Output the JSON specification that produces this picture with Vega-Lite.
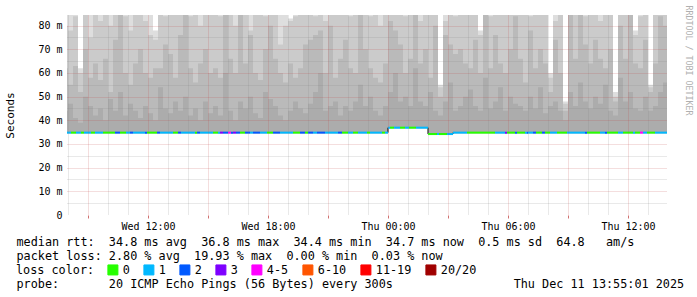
{
"$schema": "https://vega.github.io/schema/vega-lite/v6.json",
"width": 600, "height": 200,
"autosize": {"type": "none"},
"padding": {"left": 67, "top": 15, "right": 30, "bottom": 82},
"background": "white",
"config": {"view": {"stroke": null}, "font": "DejaVu Sans Mono"},
"datasets": {
"smoke": [
{"t":"2025-12-10T07:45","med":34.8,"a":90,"b":80,"c":62,"d":44},
{"t":"2025-12-10T08:00","med":34.8,"a":90,"b":78,"c":55,"d":47},
{"t":"2025-12-10T08:15","med":34.8,"a":90,"b":84,"c":63,"d":41},
{"t":"2025-12-10T08:30","med":34.8,"a":62,"b":60,"c":52,"d":39},
{"t":"2025-12-10T08:45","med":34.8,"a":90,"b":86,"c":70,"d":50},
{"t":"2025-12-10T09:00","med":34.8,"a":90,"b":75,"c":58,"d":46},
{"t":"2025-12-10T09:15","med":34.8,"a":90,"b":90,"c":64,"d":42},
{"t":"2025-12-10T09:30","med":34.8,"a":90,"b":82,"c":57,"d":45},
{"t":"2025-12-10T09:45","med":34.8,"a":90,"b":88,"c":66,"d":40},
{"t":"2025-12-10T10:00","med":34.8,"a":90,"b":80,"c":52,"d":49},
{"t":"2025-12-10T10:15","med":34.8,"a":90,"b":90,"c":74,"d":44},
{"t":"2025-12-10T10:30","med":34.8,"a":90,"b":90,"c":90,"d":52},
{"t":"2025-12-10T10:45","med":34.8,"a":90,"b":84,"c":60,"d":42},
{"t":"2025-12-10T11:00","med":34.8,"a":90,"b":78,"c":55,"d":47},
{"t":"2025-12-10T11:15","med":34.8,"a":90,"b":86,"c":64,"d":44},
{"t":"2025-12-10T11:30","med":34.8,"a":90,"b":90,"c":70,"d":41},
{"t":"2025-12-10T11:45","med":34.8,"a":90,"b":82,"c":60,"d":46},
{"t":"2025-12-10T12:00","med":34.8,"a":90,"b":76,"c":58,"d":43},
{"t":"2025-12-10T12:15","med":34.8,"a":78,"b":74,"c":62,"d":40},
{"t":"2025-12-10T12:30","med":34.8,"a":90,"b":88,"c":62,"d":54},
{"t":"2025-12-10T12:45","med":34.8,"a":90,"b":84,"c":72,"d":45},
{"t":"2025-12-10T13:00","med":34.8,"a":90,"b":90,"c":68,"d":43},
{"t":"2025-12-10T13:15","med":34.8,"a":90,"b":86,"c":58,"d":48},
{"t":"2025-12-10T13:30","med":34.8,"a":90,"b":90,"c":76,"d":44},
{"t":"2025-12-10T13:45","med":34.8,"a":90,"b":90,"c":90,"d":50},
{"t":"2025-12-10T14:00","med":34.8,"a":90,"b":84,"c":62,"d":42},
{"t":"2025-12-10T14:15","med":34.8,"a":90,"b":88,"c":56,"d":45},
{"t":"2025-12-10T14:30","med":34.8,"a":90,"b":80,"c":64,"d":40},
{"t":"2025-12-10T14:45","med":34.8,"a":90,"b":86,"c":70,"d":48},
{"t":"2025-12-10T15:00","med":34.8,"a":90,"b":90,"c":60,"d":43},
{"t":"2025-12-10T15:15","med":34.8,"a":90,"b":88,"c":62,"d":46},
{"t":"2025-12-10T15:30","med":34.8,"a":90,"b":84,"c":58,"d":42},
{"t":"2025-12-10T15:45","med":34.8,"a":90,"b":90,"c":90,"d":60},
{"t":"2025-12-10T16:00","med":34.8,"a":90,"b":86,"c":66,"d":44},
{"t":"2025-12-10T16:15","med":34.8,"a":90,"b":80,"c":60,"d":40},
{"t":"2025-12-10T16:30","med":34.8,"a":90,"b":90,"c":88,"d":48},
{"t":"2025-12-10T16:45","med":34.8,"a":90,"b":88,"c":64,"d":45},
{"t":"2025-12-10T17:00","med":34.8,"a":90,"b":78,"c":76,"d":50},
{"t":"2025-12-10T17:15","med":34.8,"a":90,"b":86,"c":60,"d":43},
{"t":"2025-12-10T17:30","med":34.8,"a":90,"b":90,"c":57,"d":41},
{"t":"2025-12-10T17:45","med":34.8,"a":90,"b":84,"c":70,"d":52},
{"t":"2025-12-10T18:00","med":34.8,"a":90,"b":90,"c":80,"d":49},
{"t":"2025-12-10T18:15","med":34.8,"a":90,"b":88,"c":66,"d":46},
{"t":"2025-12-10T18:30","med":34.8,"a":90,"b":72,"c":60,"d":42},
{"t":"2025-12-10T18:45","med":34.8,"a":90,"b":80,"c":56,"d":40},
{"t":"2025-12-10T19:00","med":34.8,"a":83,"b":82,"c":64,"d":44},
{"t":"2025-12-10T19:15","med":34.8,"a":90,"b":84,"c":58,"d":48},
{"t":"2025-12-10T19:30","med":34.8,"a":90,"b":90,"c":62,"d":45},
{"t":"2025-12-10T19:45","med":34.8,"a":90,"b":86,"c":72,"d":43},
{"t":"2025-12-10T20:00","med":34.8,"a":90,"b":90,"c":74,"d":47},
{"t":"2025-12-10T20:15","med":34.8,"a":90,"b":84,"c":76,"d":52},
{"t":"2025-12-10T20:30","med":34.8,"a":90,"b":90,"c":78,"d":60},
{"t":"2025-12-10T20:45","med":34.8,"a":90,"b":82,"c":60,"d":44},
{"t":"2025-12-10T21:00","med":34.8,"a":90,"b":88,"c":80,"d":46},
{"t":"2025-12-10T21:15","med":34.8,"a":90,"b":86,"c":58,"d":48},
{"t":"2025-12-10T21:30","med":34.8,"a":90,"b":90,"c":66,"d":42},
{"t":"2025-12-10T21:45","med":34.8,"a":90,"b":90,"c":74,"d":46},
{"t":"2025-12-10T22:00","med":34.8,"a":90,"b":84,"c":62,"d":44},
{"t":"2025-12-10T22:15","med":34.8,"a":90,"b":88,"c":60,"d":48},
{"t":"2025-12-10T22:30","med":34.8,"a":90,"b":90,"c":90,"d":55},
{"t":"2025-12-10T22:45","med":34.8,"a":90,"b":88,"c":70,"d":46},
{"t":"2025-12-10T23:00","med":34.8,"a":90,"b":84,"c":62,"d":50},
{"t":"2025-12-10T23:15","med":34.8,"a":90,"b":90,"c":58,"d":44},
{"t":"2025-12-10T23:30","med":34.8,"a":90,"b":80,"c":56,"d":42},
{"t":"2025-12-10T23:45","med":34.8,"a":90,"b":86,"c":64,"d":46},
{"t":"2025-12-11T00:00","med":36.9,"a":90,"b":90,"c":82,"d":52},
{"t":"2025-12-11T00:15","med":36.9,"a":90,"b":88,"c":78,"d":60},
{"t":"2025-12-11T00:30","med":36.9,"a":90,"b":90,"c":72,"d":48},
{"t":"2025-12-11T00:45","med":36.9,"a":90,"b":84,"c":60,"d":50},
{"t":"2025-12-11T01:00","med":36.9,"a":90,"b":86,"c":66,"d":46},
{"t":"2025-12-11T01:15","med":36.9,"a":90,"b":90,"c":88,"d":62},
{"t":"2025-12-11T01:30","med":36.9,"a":90,"b":82,"c":64,"d":48},
{"t":"2025-12-11T01:45","med":36.9,"a":90,"b":88,"c":70,"d":46},
{"t":"2025-12-11T02:00","med":34.2,"a":90,"b":86,"c":58,"d":52},
{"t":"2025-12-11T02:15","med":34.2,"a":90,"b":90,"c":80,"d":44},
{"t":"2025-12-11T02:30","med":34.2,"a":55,"b":54,"c":50,"d":42},
{"t":"2025-12-11T02:45","med":34.2,"a":90,"b":82,"c":76,"d":48},
{"t":"2025-12-11T03:00","med":34.2,"a":90,"b":90,"c":72,"d":56},
{"t":"2025-12-11T03:15","med":34.8,"a":90,"b":84,"c":68,"d":44},
{"t":"2025-12-11T03:30","med":34.8,"a":90,"b":90,"c":70,"d":46},
{"t":"2025-12-11T03:45","med":34.8,"a":90,"b":86,"c":64,"d":50},
{"t":"2025-12-11T04:00","med":34.8,"a":90,"b":88,"c":62,"d":53},
{"t":"2025-12-11T04:15","med":34.8,"a":90,"b":90,"c":74,"d":46},
{"t":"2025-12-11T04:30","med":34.8,"a":78,"b":76,"c":60,"d":44},
{"t":"2025-12-11T04:45","med":34.8,"a":90,"b":90,"c":90,"d":58},
{"t":"2025-12-11T05:00","med":34.8,"a":90,"b":84,"c":62,"d":45},
{"t":"2025-12-11T05:15","med":34.8,"a":90,"b":88,"c":76,"d":48},
{"t":"2025-12-11T05:30","med":34.8,"a":90,"b":86,"c":64,"d":54},
{"t":"2025-12-11T05:45","med":34.8,"a":90,"b":90,"c":60,"d":44},
{"t":"2025-12-11T06:00","med":34.8,"a":90,"b":88,"c":70,"d":50},
{"t":"2025-12-11T06:15","med":34.8,"a":90,"b":90,"c":84,"d":47},
{"t":"2025-12-11T06:30","med":34.8,"a":90,"b":86,"c":66,"d":46},
{"t":"2025-12-11T06:45","med":34.8,"a":90,"b":90,"c":56,"d":44},
{"t":"2025-12-11T07:00","med":34.8,"a":90,"b":84,"c":78,"d":50},
{"t":"2025-12-11T07:15","med":34.8,"a":90,"b":88,"c":62,"d":45},
{"t":"2025-12-11T07:30","med":34.8,"a":90,"b":90,"c":70,"d":54},
{"t":"2025-12-11T07:45","med":34.8,"a":90,"b":86,"c":64,"d":43},
{"t":"2025-12-11T08:00","med":34.8,"a":60,"b":58,"c":52,"d":46},
{"t":"2025-12-11T08:15","med":34.8,"a":90,"b":82,"c":74,"d":48},
{"t":"2025-12-11T08:30","med":34.8,"a":90,"b":88,"c":60,"d":44},
{"t":"2025-12-11T08:45","med":34.8,"a":48,"b":47,"c":44,"d":40},
{"t":"2025-12-11T09:00","med":34.8,"a":90,"b":90,"c":90,"d":52},
{"t":"2025-12-11T09:15","med":34.8,"a":90,"b":86,"c":66,"d":46},
{"t":"2025-12-11T09:30","med":34.8,"a":90,"b":90,"c":88,"d":56},
{"t":"2025-12-11T09:45","med":34.8,"a":90,"b":84,"c":72,"d":48},
{"t":"2025-12-11T10:00","med":34.8,"a":90,"b":88,"c":64,"d":45},
{"t":"2025-12-11T10:15","med":34.8,"a":90,"b":90,"c":74,"d":50},
{"t":"2025-12-11T10:30","med":34.8,"a":90,"b":82,"c":66,"d":47},
{"t":"2025-12-11T10:45","med":34.8,"a":90,"b":86,"c":62,"d":55},
{"t":"2025-12-11T11:00","med":34.8,"a":90,"b":88,"c":70,"d":44},
{"t":"2025-12-11T11:15","med":34.8,"a":52,"b":50,"c":48,"d":42},
{"t":"2025-12-11T11:30","med":34.8,"a":90,"b":86,"c":80,"d":58},
{"t":"2025-12-11T11:45","med":34.8,"a":90,"b":90,"c":66,"d":48},
{"t":"2025-12-11T12:00","med":34.8,"a":90,"b":90,"c":88,"d":52},
{"t":"2025-12-11T12:15","med":34.8,"a":78,"b":76,"c":64,"d":45},
{"t":"2025-12-11T12:30","med":34.8,"a":90,"b":84,"c":62,"d":44},
{"t":"2025-12-11T12:45","med":34.8,"a":90,"b":88,"c":74,"d":50},
{"t":"2025-12-11T13:00","med":34.8,"a":55,"b":54,"c":52,"d":44},
{"t":"2025-12-11T13:15","med":34.8,"a":90,"b":86,"c":64,"d":46},
{"t":"2025-12-11T13:30","med":34.8,"a":90,"b":90,"c":84,"d":52},
{"t":"2025-12-11T13:45","med":34.8,"a":90,"b":90,"c":80,"d":56},
{"t":"2025-12-11T14:00","med":34.8,"a":90,"b":90,"c":80,"d":56}
],
"seg": [
{"s":"2025-12-10T07:45","e":"2025-12-10T08:09","med":34.8,"loss":"1"},
{"s":"2025-12-10T08:09","e":"2025-12-10T08:24","med":34.8,"loss":"0"},
{"s":"2025-12-10T08:24","e":"2025-12-10T08:39","med":34.8,"loss":"1"},
{"s":"2025-12-10T08:39","e":"2025-12-10T08:48","med":34.8,"loss":"0"},
{"s":"2025-12-10T08:48","e":"2025-12-10T09:09","med":34.8,"loss":"1"},
{"s":"2025-12-10T09:09","e":"2025-12-10T09:21","med":34.8,"loss":"0"},
{"s":"2025-12-10T09:21","e":"2025-12-10T09:45","med":34.8,"loss":"1"},
{"s":"2025-12-10T09:45","e":"2025-12-10T10:21","med":34.8,"loss":"0"},
{"s":"2025-12-10T10:21","e":"2025-12-10T10:36","med":34.8,"loss":"2"},
{"s":"2025-12-10T10:36","e":"2025-12-10T10:54","med":34.8,"loss":"0"},
{"s":"2025-12-10T10:54","e":"2025-12-10T11:06","med":34.8,"loss":"1"},
{"s":"2025-12-10T11:06","e":"2025-12-10T11:15","med":34.8,"loss":"2"},
{"s":"2025-12-10T11:15","e":"2025-12-10T11:51","med":34.8,"loss":"1"},
{"s":"2025-12-10T11:51","e":"2025-12-10T11:57","med":34.8,"loss":"2"},
{"s":"2025-12-10T11:57","e":"2025-12-10T12:27","med":34.8,"loss":"0"},
{"s":"2025-12-10T12:27","e":"2025-12-10T12:36","med":34.8,"loss":"2"},
{"s":"2025-12-10T12:36","e":"2025-12-10T13:15","med":34.8,"loss":"1"},
{"s":"2025-12-10T13:15","e":"2025-12-10T13:30","med":34.8,"loss":"0"},
{"s":"2025-12-10T13:30","e":"2025-12-10T13:39","med":34.8,"loss":"2"},
{"s":"2025-12-10T13:39","e":"2025-12-10T14:21","med":34.8,"loss":"1"},
{"s":"2025-12-10T14:21","e":"2025-12-10T14:27","med":34.8,"loss":"0"},
{"s":"2025-12-10T14:27","e":"2025-12-10T14:36","med":34.8,"loss":"2"},
{"s":"2025-12-10T14:36","e":"2025-12-10T15:15","med":34.8,"loss":"1"},
{"s":"2025-12-10T15:15","e":"2025-12-10T15:30","med":34.8,"loss":"0"},
{"s":"2025-12-10T15:30","e":"2025-12-10T15:36","med":34.8,"loss":"1"},
{"s":"2025-12-10T15:36","e":"2025-12-10T15:45","med":34.8,"loss":"3"},
{"s":"2025-12-10T15:45","e":"2025-12-10T16:00","med":34.8,"loss":"2"},
{"s":"2025-12-10T16:00","e":"2025-12-10T16:09","med":34.8,"loss":"4-5"},
{"s":"2025-12-10T16:09","e":"2025-12-10T16:15","med":34.8,"loss":"2"},
{"s":"2025-12-10T16:15","e":"2025-12-10T16:24","med":34.8,"loss":"3"},
{"s":"2025-12-10T16:24","e":"2025-12-10T16:36","med":34.8,"loss":"2"},
{"s":"2025-12-10T16:36","e":"2025-12-10T16:51","med":34.8,"loss":"0"},
{"s":"2025-12-10T16:51","e":"2025-12-10T17:06","med":34.8,"loss":"2"},
{"s":"2025-12-10T17:06","e":"2025-12-10T17:15","med":34.8,"loss":"1"},
{"s":"2025-12-10T17:15","e":"2025-12-10T17:36","med":34.8,"loss":"2"},
{"s":"2025-12-10T17:36","e":"2025-12-10T17:57","med":34.8,"loss":"1"},
{"s":"2025-12-10T17:57","e":"2025-12-10T18:15","med":34.8,"loss":"0"},
{"s":"2025-12-10T18:15","e":"2025-12-10T18:36","med":34.8,"loss":"2"},
{"s":"2025-12-10T18:36","e":"2025-12-10T19:15","med":34.8,"loss":"1"},
{"s":"2025-12-10T19:15","e":"2025-12-10T19:36","med":34.8,"loss":"0"},
{"s":"2025-12-10T19:36","e":"2025-12-10T19:51","med":34.8,"loss":"2"},
{"s":"2025-12-10T19:51","e":"2025-12-10T20:00","med":34.8,"loss":"0"},
{"s":"2025-12-10T20:00","e":"2025-12-10T20:15","med":34.8,"loss":"2"},
{"s":"2025-12-10T20:15","e":"2025-12-10T20:27","med":34.8,"loss":"1"},
{"s":"2025-12-10T20:27","e":"2025-12-10T20:51","med":34.8,"loss":"2"},
{"s":"2025-12-10T20:51","e":"2025-12-10T21:30","med":34.8,"loss":"1"},
{"s":"2025-12-10T21:30","e":"2025-12-10T21:42","med":34.8,"loss":"2"},
{"s":"2025-12-10T21:42","e":"2025-12-10T22:00","med":34.8,"loss":"0"},
{"s":"2025-12-10T22:00","e":"2025-12-10T22:15","med":34.8,"loss":"1"},
{"s":"2025-12-10T22:15","e":"2025-12-10T22:30","med":34.8,"loss":"0"},
{"s":"2025-12-10T22:30","e":"2025-12-10T22:57","med":34.8,"loss":"1"},
{"s":"2025-12-10T22:57","e":"2025-12-10T23:06","med":34.8,"loss":"0"},
{"s":"2025-12-10T23:06","e":"2025-12-10T23:42","med":34.8,"loss":"1"},
{"s":"2025-12-10T23:42","e":"2025-12-10T23:51","med":34.8,"loss":"0"},
{"s":"2025-12-10T23:51","e":"2025-12-11T00:00","med":34.8,"loss":"1"},
{"s":"2025-12-11T00:00","e":"2025-12-11T00:06","med":36.9,"loss":"1"},
{"s":"2025-12-11T00:06","e":"2025-12-11T00:18","med":36.9,"loss":"0"},
{"s":"2025-12-11T00:18","e":"2025-12-11T00:36","med":36.9,"loss":"1"},
{"s":"2025-12-11T00:36","e":"2025-12-11T00:51","med":36.9,"loss":"0"},
{"s":"2025-12-11T00:51","e":"2025-12-11T01:03","med":36.9,"loss":"1"},
{"s":"2025-12-11T01:03","e":"2025-12-11T01:24","med":36.9,"loss":"0"},
{"s":"2025-12-11T01:24","e":"2025-12-11T02:00","med":36.9,"loss":"1"},
{"s":"2025-12-11T02:00","e":"2025-12-11T02:27","med":34.2,"loss":"0"},
{"s":"2025-12-11T02:27","e":"2025-12-11T02:33","med":34.2,"loss":"1"},
{"s":"2025-12-11T02:33","e":"2025-12-11T02:57","med":34.2,"loss":"0"},
{"s":"2025-12-11T02:57","e":"2025-12-11T03:15","med":34.2,"loss":"1"},
{"s":"2025-12-11T03:15","e":"2025-12-11T03:57","med":34.8,"loss":"1"},
{"s":"2025-12-11T03:57","e":"2025-12-11T05:21","med":34.8,"loss":"0"},
{"s":"2025-12-11T05:21","e":"2025-12-11T05:51","med":34.8,"loss":"1"},
{"s":"2025-12-11T05:51","e":"2025-12-11T05:57","med":34.8,"loss":"3"},
{"s":"2025-12-11T05:57","e":"2025-12-11T06:21","med":34.8,"loss":"0"},
{"s":"2025-12-11T06:21","e":"2025-12-11T06:27","med":34.8,"loss":"2"},
{"s":"2025-12-11T06:27","e":"2025-12-11T06:51","med":34.8,"loss":"0"},
{"s":"2025-12-11T06:51","e":"2025-12-11T06:57","med":34.8,"loss":"1"},
{"s":"2025-12-11T06:57","e":"2025-12-11T07:00","med":34.8,"loss":"2"},
{"s":"2025-12-11T07:00","e":"2025-12-11T07:15","med":34.8,"loss":"1"},
{"s":"2025-12-11T07:15","e":"2025-12-11T07:24","med":34.8,"loss":"2"},
{"s":"2025-12-11T07:24","e":"2025-12-11T07:42","med":34.8,"loss":"0"},
{"s":"2025-12-11T07:42","e":"2025-12-11T07:51","med":34.8,"loss":"2"},
{"s":"2025-12-11T07:51","e":"2025-12-11T08:06","med":34.8,"loss":"0"},
{"s":"2025-12-11T08:06","e":"2025-12-11T08:27","med":34.8,"loss":"1"},
{"s":"2025-12-11T08:27","e":"2025-12-11T08:57","med":34.8,"loss":"0"},
{"s":"2025-12-11T08:57","e":"2025-12-11T09:51","med":34.8,"loss":"1"},
{"s":"2025-12-11T09:51","e":"2025-12-11T09:57","med":34.8,"loss":"2"},
{"s":"2025-12-11T09:57","e":"2025-12-11T10:36","med":34.8,"loss":"0"},
{"s":"2025-12-11T10:36","e":"2025-12-11T10:51","med":34.8,"loss":"1"},
{"s":"2025-12-11T10:51","e":"2025-12-11T10:57","med":34.8,"loss":"2"},
{"s":"2025-12-11T10:57","e":"2025-12-11T11:30","med":34.8,"loss":"0"},
{"s":"2025-12-11T11:30","e":"2025-12-11T11:45","med":34.8,"loss":"1"},
{"s":"2025-12-11T11:45","e":"2025-12-11T12:15","med":34.8,"loss":"0"},
{"s":"2025-12-11T12:15","e":"2025-12-11T12:21","med":34.8,"loss":"1"},
{"s":"2025-12-11T12:21","e":"2025-12-11T12:36","med":34.8,"loss":"0"},
{"s":"2025-12-11T12:36","e":"2025-12-11T12:45","med":34.8,"loss":"4-5"},
{"s":"2025-12-11T12:45","e":"2025-12-11T12:57","med":34.8,"loss":"1"},
{"s":"2025-12-11T12:57","e":"2025-12-11T13:21","med":34.8,"loss":"0"},
{"s":"2025-12-11T13:21","e":"2025-12-11T14:00","med":34.8,"loss":"1"}
]
},
"resolve": {"axis": {"x": "independent", "y": "independent"}},
"layer": [
{"data": {"name": "smoke"},
 "mark": {"type": "area", "interpolate": "step-after", "clip": true, "color": "#dedede"},
 "encoding": {
  "x": {"field": "t", "type": "temporal",
   "scale": {"domain": [{"year":2025,"month":12,"date":10,"hours":7,"minutes":57},{"year":2025,"month":12,"date":11,"hours":13,"minutes":57}], "nice": false},
   "axis": {"orient": "bottom", "values": [
     {"year":2025,"month":12,"date":10,"hours":8},{"year":2025,"month":12,"date":10,"hours":10},{"year":2025,"month":12,"date":10,"hours":11},
     {"year":2025,"month":12,"date":10,"hours":13},{"year":2025,"month":12,"date":10,"hours":14},{"year":2025,"month":12,"date":10,"hours":16},
     {"year":2025,"month":12,"date":10,"hours":17},{"year":2025,"month":12,"date":10,"hours":19},{"year":2025,"month":12,"date":10,"hours":20},
     {"year":2025,"month":12,"date":10,"hours":22},{"year":2025,"month":12,"date":10,"hours":23},{"year":2025,"month":12,"date":11,"hours":1},
     {"year":2025,"month":12,"date":11,"hours":2},{"year":2025,"month":12,"date":11,"hours":4},{"year":2025,"month":12,"date":11,"hours":5},
     {"year":2025,"month":12,"date":11,"hours":7},{"year":2025,"month":12,"date":11,"hours":8},{"year":2025,"month":12,"date":11,"hours":10},
     {"year":2025,"month":12,"date":11,"hours":11},{"year":2025,"month":12,"date":11,"hours":13}],
     "grid": true, "gridColor": "#808080", "gridOpacity": 0.35, "gridDash": [1, 1], "gridWidth": 1,
     "labels": false, "ticks": false, "domain": false, "title": null, "zindex": 1}},
  "y": {"field": "a", "type": "quantitative", "scale": {"domain": [0, 84.5], "nice": false, "zero": false},
   "axis": {"orient": "left", "values": [5, 15, 25, 45, 55, 65, 75], "grid": true, "gridColor": "#808080", "gridOpacity": 0.35, "gridDash": [1, 1], "gridWidth": 1,
     "labels": false, "ticks": false, "domain": false, "title": null, "zindex": 1}},
  "y2": {"field": "med"}}},
{"data": {"name": "smoke"},
 "mark": {"type": "area", "interpolate": "step-after", "clip": true, "color": "#cbcbcb"},
 "encoding": {
  "x": {"field": "t", "type": "temporal",
   "scale": {"domain": [{"year":2025,"month":12,"date":10,"hours":7,"minutes":57},{"year":2025,"month":12,"date":11,"hours":13,"minutes":57}], "nice": false},
   "axis": {"orient": "bottom", "values": [
     {"year":2025,"month":12,"date":10,"hours":9},{"year":2025,"month":12,"date":10,"hours":12},{"year":2025,"month":12,"date":10,"hours":15},
     {"year":2025,"month":12,"date":10,"hours":18},{"year":2025,"month":12,"date":10,"hours":21},{"year":2025,"month":12,"date":11,"hours":0},
     {"year":2025,"month":12,"date":11,"hours":3},{"year":2025,"month":12,"date":11,"hours":6},{"year":2025,"month":12,"date":11,"hours":9},
     {"year":2025,"month":12,"date":11,"hours":12}],
     "grid": true, "gridColor": "#c04040", "gridOpacity": 0.35, "gridDash": [1, 1], "gridWidth": 1,
     "labels": false, "ticks": true, "tickColor": "#d07070", "tickSize": 3, "domain": false, "title": null, "zindex": 1}},
  "y": {"field": "b", "type": "quantitative", "scale": {"domain": [0, 84.5], "nice": false, "zero": false},
   "axis": {"orient": "left", "values": [10, 20, 30, 40, 50, 60, 70, 80], "grid": true, "gridColor": "#c04040", "gridOpacity": 0.35, "gridDash": [1, 1], "gridWidth": 1,
     "labels": false, "ticks": false, "domain": false, "title": null, "zindex": 1}},
  "y2": {"field": "med"}}},
{"data": {"name": "smoke"},
 "mark": {"type": "area", "interpolate": "step-after", "clip": true, "color": "#bababa"},
 "encoding": {
  "x": {"field": "t", "type": "temporal",
   "scale": {"domain": [{"year":2025,"month":12,"date":10,"hours":7,"minutes":57},{"year":2025,"month":12,"date":11,"hours":13,"minutes":57}], "nice": false},
   "axis": {"orient": "bottom", "values": [
     {"year":2025,"month":12,"date":10,"hours":12},{"year":2025,"month":12,"date":10,"hours":18},{"year":2025,"month":12,"date":11,"hours":0},
     {"year":2025,"month":12,"date":11,"hours":6},{"year":2025,"month":12,"date":11,"hours":12}],
     "format": "%a %H:%M", "formatType": "time", "grid": false, "domain": false, "ticks": false, "tickSize": 0,
     "labelPadding": 6, "labelFont": "DejaVu Sans Mono", "labelFontSize": 10, "labelColor": "#000000", "labelAngle": 0, "labelFlush": false, "labelOverlap": false,
     "title": [
       "median rtt:\u00a0\u00a034.8 ms avg\u00a0\u00a036.8 ms max\u00a0\u00a034.4 ms min\u00a0\u00a034.7 ms now\u00a0\u00a00.5 ms sd\u00a0\u00a064.8\u00a0\u00a0\u00a0am/s",
       "packet loss: 2.80 % avg\u00a0\u00a019.93 % max\u00a0\u00a00.00 % min\u00a0\u00a00.03 % now",
       "\u200b",
       "probe:\u00a0\u00a0\u00a0\u00a0\u00a0\u00a0\u00a020 ICMP Echo Pings (56 Bytes) every 300s\u00a0\u00a0\u00a0\u00a0\u00a0\u00a0\u00a0\u00a0\u00a0\u00a0\u00a0\u00a0\u00a0\u00a0\u00a0\u00a0\u00a0Thu Dec 11 13:55:01 2025"],
     "titleX": -51, "titleY": 30, "titleAlign": "left", "titleAnchor": "start", "titleBaseline": "alphabetic",
     "titleFont": "DejaVu Sans Mono", "titleFontSize": 11.8, "titleFontWeight": "normal", "titleColor": "#000000", "titleLineHeight": 14}},
  "y": {"field": "c", "type": "quantitative", "scale": {"domain": [0, 84.5], "nice": false, "zero": false},
   "axis": {"orient": "left", "values": [0, 10, 20, 30, 40, 50, 60, 70, 80],
     "labelExpr": "datum.value == 0 ? '0' : datum.value + ' m'",
     "grid": false, "domain": false, "ticks": false, "tickSize": 0, "labelPadding": 5,
     "labelFont": "DejaVu Sans Mono", "labelFontSize": 10, "labelColor": "#000000",
     "title": "Seconds", "titleX": -57, "titleY": 100, "titleAngle": -90, "titleAlign": "center", "titleBaseline": "middle",
     "titleFont": "DejaVu Sans Mono", "titleFontSize": 11, "titleFontWeight": "normal", "titleColor": "#000000"}},
  "y2": {"field": "med"}}},
{"data": {"name": "smoke"},
 "mark": {"type": "area", "interpolate": "step-after", "clip": true, "color": "#acacac"},
 "encoding": {
  "x": {"field": "t", "type": "temporal", "axis": null},
  "y": {"field": "d", "type": "quantitative",
   "axis": {"orient": "right", "labels": false, "ticks": false, "domain": false, "grid": false,
     "title": "RRDTOOL / TOBI OETIKER", "titleX": 20, "titleY": -10, "titleAngle": 90, "titleAlign": "left", "titleBaseline": "middle",
     "titleFont": "DejaVu Sans Mono", "titleFontSize": 8.3, "titleFontWeight": "normal", "titleColor": "#b0b0b0"}},
  "y2": {"field": "med"}}},
{"data": {"name": "smoke"},
 "mark": {"type": "line", "interpolate": "step-after", "clip": true, "color": "#000000", "strokeWidth": 1},
 "encoding": {
  "x": {"field": "t", "type": "temporal", "axis": null},
  "y": {"field": "med", "type": "quantitative", "axis": null}}},
{"data": {"name": "seg"},
 "mark": {"type": "rule", "clip": true, "strokeWidth": 2, "strokeCap": "butt"},
 "encoding": {
  "x": {"field": "s", "type": "temporal", "axis": null},
  "x2": {"field": "e"},
  "y": {"field": "med", "type": "quantitative", "axis": null},
  "color": {"field": "loss", "type": "nominal",
   "scale": {"domain": ["0", "1", "2", "3", "4-5", "6-10", "11-19", "20/20"],
     "range": ["#26ff00", "#00b8ff", "#0059ff", "#7e00ff", "#ff00ff", "#ff5500", "#ff0000", "#a00000"]},
   "legend": {"orient": "none", "legendX": -51, "legendY": 249, "direction": "horizontal", "columns": 8,
     "title": "loss color:", "titleOrient": "left", "titleFont": "DejaVu Sans Mono", "titleFontSize": 11.8, "titleFontWeight": "normal", "titleColor": "#000000", "titlePadding": 12,
     "labelFont": "DejaVu Sans Mono", "labelFontSize": 11.8, "labelColor": "#000000", "labelOffset": 4, "columnPadding": 11,
     "symbolType": "square", "symbolSize": 100, "symbolStrokeWidth": 1, "symbolStrokeColor": "#000000", "symbolOpacity": 1, "padding": 0,
     "encode": {"symbols": {"update": {"fill": {"scale": "color", "field": "value"}, "stroke": {"value": "#000000"}, "strokeWidth": {"value": 1}, "opacity": {"value": 1}}}}}}}},
{"mark": {"type": "rule", "color": "#606060", "strokeWidth": 1},
 "encoding": {
  "x": {"datum": {"year":2025,"month":12,"date":10,"hours":7,"minutes":57}, "type": "temporal", "axis": null},
  "y": {"datum": 0, "type": "quantitative", "axis": null},
  "y2": {"datum": 86}}},
{"mark": {"type": "rule", "color": "#000000", "strokeWidth": 1},
 "encoding": {
  "x": {"datum": {"year":2025,"month":12,"date":10,"hours":7,"minutes":42}, "type": "temporal", "axis": null},
  "x2": {"datum": {"year":2025,"month":12,"date":11,"hours":14,"minutes":9}},
  "y": {"datum": 0, "type": "quantitative", "axis": null}}},
{"mark": {"type": "point", "shape": "triangle-up", "filled": true, "color": "#8b1a1a", "size": 36, "opacity": 1},
 "encoding": {
  "x": {"datum": {"year":2025,"month":12,"date":10,"hours":7,"minutes":57}, "type": "temporal", "axis": null},
  "y": {"datum": 86.9, "type": "quantitative", "axis": null}}},
{"mark": {"type": "point", "shape": "triangle-right", "filled": true, "color": "#8b1a1a", "size": 36, "opacity": 1},
 "encoding": {
  "x": {"datum": {"year":2025,"month":12,"date":11,"hours":14,"minutes":9}, "type": "temporal", "axis": null},
  "y": {"datum": 0, "type": "quantitative", "axis": null}}}
]
}
